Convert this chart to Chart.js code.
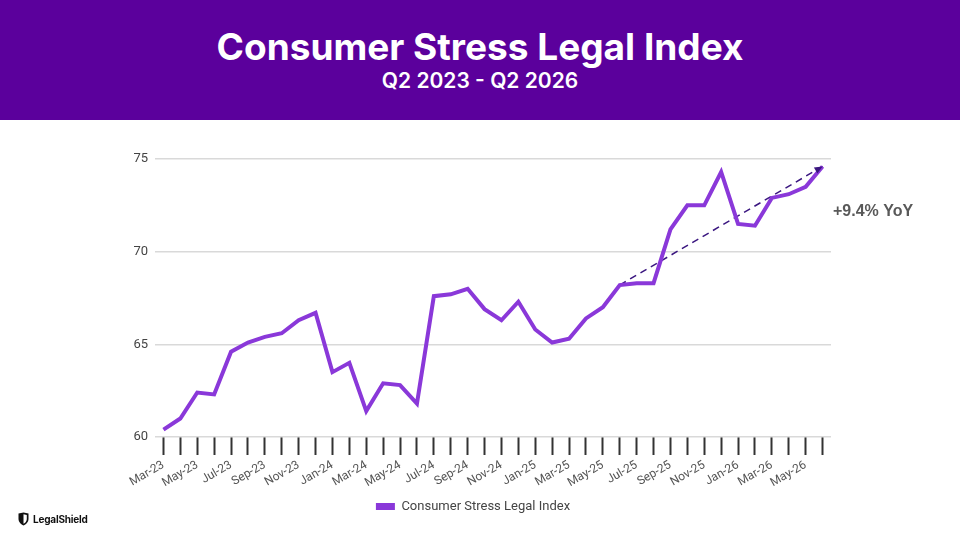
<!DOCTYPE html>
<html>
<head>
<meta charset="utf-8">
<title>Consumer Stress Legal Index</title>
<script src="https://cdn.jsdelivr.net/npm/chart.js@4.4.1/dist/chart.umd.min.js"></script>
<style>
  html, body { margin: 0; padding: 0; background: #fff; }
  #page { position: relative; width: 960px; height: 540px; overflow: hidden; font-family: Inter, "Noto Sans", sans-serif; }
  #header { position: absolute; left: 0; top: 0; width: 960px; height: 120px; background: #5b009c; color: #fff; text-align: center; }
  #title { position: absolute; left: 0; top: 25px; width: 960px; font-size: 37px; line-height: 44px; font-weight: 700; }
  #subtitle { position: absolute; left: 0; top: 68px; width: 960px; font-size: 21px; line-height: 26px; font-weight: 600; }
  #chartBox { position: absolute; left: 0; top: 120px; width: 960px; height: 420px; }
  #logo { position: absolute; left: 18px; top: 512px; display: flex; align-items: center; gap: 4px; font-family: Inter, sans-serif; font-weight: 700; font-size: 10px; color: #111; letter-spacing: -0.2px; }
</style>
</head>
<body>
<div id="page">
  <div id="header">
    <div id="title">Consumer Stress Legal Index</div>
    <div id="subtitle">Q2 2023 - Q2 2026</div>
  </div>
  <div id="chartBox"><canvas id="myChart"></canvas></div>
  <div id="logo">
    <svg width="11" height="14" viewBox="0 0 11 14">
      <path d="M0.5 1.5 L5.5 0.5 L10.5 1.5 L10.5 7 C10.5 10 8 12.5 5.5 13.5 C3 12.5 0.5 10 0.5 7 Z" fill="#111"/>
      <path d="M5.5 2.2 L8.8 2.9 L8.8 7 C8.8 9.2 7.2 11 5.5 11.8 Z" fill="#fff"/>
    </svg>
    <span>LegalShield</span>
  </div>
</div>
<script>
// Monatsachse und Werte
const months = [
  'Mar-23','Apr-23','May-23','Jun-23','Jul-23','Aug-23','Sep-23','Oct-23','Nov-23','Dec-23',
  'Jan-24','Feb-24','Mar-24','Apr-24','May-24','Jun-24','Jul-24','Aug-24','Sep-24','Oct-24','Nov-24','Dec-24',
  'Jan-25','Feb-25','Mar-25','Apr-25','May-25','Jun-25','Jul-25','Aug-25','Sep-25','Oct-25','Nov-25','Dec-25',
  'Jan-26','Feb-26','Mar-26','Apr-26','May-26','Jun-26'
];
const indexValues = [
  60.4, 61.0, 62.4, 62.3, 64.6, 65.1, 65.4, 65.6, 66.3, 66.7,
  63.5, 64.0, 61.4, 62.9, 62.8, 61.8, 67.6, 67.7, 68.0, 66.9, 66.3, 67.3,
  65.8, 65.1, 65.3, 66.4, 67.0, 68.2, 68.3, 68.3, 71.2, 72.5, 72.5, 74.3,
  71.5, 71.4, 72.9, 73.1, 73.5, 74.6
];
const yTicks = [60, 65, 70, 75];
const seriesName = 'Consumer Stress Legal Index';
const trendFrom = 'Jun-25';
const trendTo = 'Jun-26';
const yoyLabel = '+9.4% YoY';

// Trendlinie nur zwischen den zwei Monaten
const trendValues = months.map(function(m, i) {
  return (m === trendFrom || m === trendTo) ? indexValues[i] : null;
});

// Pfeilspitze + YoY-Text
const trendDecor = {
  id: 'trendDecor',
  afterDatasetsDraw: function(chart) {
    const pts = chart.getDatasetMeta(1).data.filter(function(p, i) { return trendValues[i] !== null; });
    if (pts.length < 2) return;
    const a = pts[0], b = pts[pts.length - 1];
    const ang = Math.atan2(b.y - a.y, b.x - a.x);
    const c = chart.ctx;
    c.save();
    c.fillStyle = '#3b1780';
    c.beginPath();
    c.moveTo(b.x, b.y);
    c.lineTo(b.x - 8 * Math.cos(ang) + 3.5 * Math.sin(ang), b.y - 8 * Math.sin(ang) - 3.5 * Math.cos(ang));
    c.lineTo(b.x - 8 * Math.cos(ang) - 3.5 * Math.sin(ang), b.y - 8 * Math.sin(ang) + 3.5 * Math.cos(ang));
    c.closePath();
    c.fill();
    c.font = 'bold 16px "Liberation Sans", Arial, sans-serif';
    c.fillStyle = '#595959';
    c.textAlign = 'left';
    c.textBaseline = 'middle';
    c.fillText(yoyLabel, chart.chartArea.right + 2, b.y + 45);
    c.restore();
  }
};

var ctx = document.getElementById('myChart').getContext('2d');
var myChart = new Chart(ctx, {
    type: 'line',
    data: {
        labels: months,
        datasets: [
            {
              label: seriesName,
              data: indexValues,
              borderColor: '#8a38d9',
              backgroundColor: '#8a38d9',
              borderWidth: 4,
              pointRadius: 0,
              tension: 0,
            },
            {
              label: 'trend',
              data: trendValues,
              borderColor: '#3b1780',
              borderWidth: 1.5,
              borderDash: [7, 5],
              pointRadius: 0,
              spanGaps: true,
              tension: 0,
            },
        ]
    },
    options: {
        responsive: true,
        maintainAspectRatio: false,
        animation: false,
        layout: { padding: { left: 115, right: 129, top: 39, bottom: 17 } },
        plugins: {
            legend: {
                position: 'bottom',
                labels: {
                    filter: function(item) { return item.datasetIndex === 0; },
                    generateLabels: function(chart) {
                        const items = Chart.defaults.plugins.legend.labels.generateLabels(chart);
                        items.forEach(function(it) { it.lineWidth = 0; });
                        return items;
                    },
                    boxWidth: 19,
                    boxHeight: 7,
                    padding: 10,
                    color: '#444',
                    font: { family: 'Roboto', size: 13 },
                },
            },
            tooltip: { enabled: false },
        },
        scales: {
            x: {
                offset: true,
                border: { display: false },
                grid: {
                    drawOnChartArea: false,
                    drawTicks: true,
                    tickLength: 18,
                    tickColor: '#333',
                    tickWidth: 2,
                },
                ticks: {
                    autoSkip: false,
                    minRotation: 30,
                    maxRotation: 30,
                    padding: 3,
                    color: '#555',
                    font: { family: 'Roboto', size: 12 },
                    callback: function(value, index) {
                        return index % 2 === 0 ? this.getLabelForValue(value) : '';
                    },
                },
                afterFit: function(scale) { scale.height = 53; },
            },
            y: {
                min: yTicks[0],
                max: yTicks[yTicks.length - 1],
                border: { display: false },
                grid: { color: '#d9d9d9', lineWidth: 1.5, drawTicks: false },
                ticks: {
                    stepSize: 5,
                    padding: 7,
                    color: '#444',
                    font: { family: 'Roboto', size: 13 },
                },
                afterFit: function(scale) { scale.width = 40; },
            }
        }
    },
    plugins: [trendDecor]
});
</script>
</body>
</html>
